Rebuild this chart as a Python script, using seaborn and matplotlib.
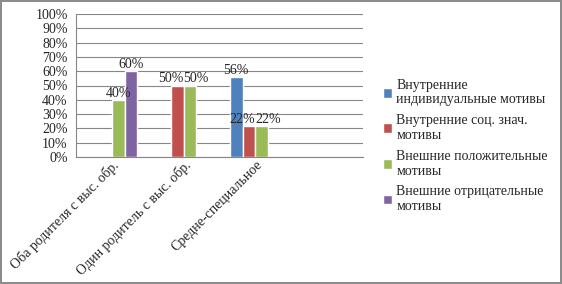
import pandas as pd
import seaborn as sns
import matplotlib.pyplot as plt
from matplotlib.ticker import PercentFormatter

# Chart data
categories = ['Оба родителя с выс. обр.', 'Один родитель с выс. обр.', 'Средне-специальное', ' ']
series = ['Внутренние\nиндивидуальные мотивы',
          'Внутренние соц. знач.\nмотивы',
          'Внешние положительные\nмотивы',
          'Внешние отрицательные\nмотивы']
internal_individual = [0, 0, 56, 0]
internal_social = [0, 50, 22, 0]
external_positive = [40, 50, 22, 0]
external_negative = [60, 0, 0, 0]
colors = ['#4F81BD', '#C0504D', '#9BBB59', '#8064A2']

values = [internal_individual, internal_social, external_positive, external_negative]
rows = []
for name, vals in zip(series, values):
    for cat, v in zip(categories, vals):
        rows.append({'cat': cat, 'series': name, 'value': v})
df = pd.DataFrame(rows)

sns.set_style('white')
plt.rcParams['font.family'] = ['Liberation Serif', 'DejaVu Serif']
plt.rcParams['font.size'] = 10

fig = plt.figure(figsize=(5.62, 2.84), dpi=100)
fig.patch.set_edgecolor('#8c8c8c')
fig.patch.set_linewidth(1.5)
ax = fig.add_axes([76 / 562, 1 - 157 / 284, (363 - 76) / 562, (157 - 14) / 284])

sns.barplot(data=df, x='cat', y='value', hue='series', palette=colors,
            width=0.71, saturation=1, ax=ax, legend=True)

# data labels, only for non-zero bars
labels_by_cat = {i: [] for i in range(len(categories))}
for container in ax.containers:
    labels = [f'{v:.0f}%' if v > 0 else '' for v in container.datavalues]
    anns = ax.bar_label(container, labels=labels, padding=0, fontsize=10)
    for i, (ann, v) in enumerate(zip(anns, container.datavalues)):
        if v > 0:
            labels_by_cat[i].append((ann, v))

# push apart labels at the same height that collide (like Excel does)
fig.canvas.draw()
renderer = fig.canvas.get_renderer()
px_to_pt = 72 / fig.dpi
for i, items in labels_by_cat.items():
    for (a1, v1), (a2, v2) in zip(items, items[1:]):
        if v1 != v2:
            continue
        b1 = a1.get_window_extent(renderer)
        b2 = a2.get_window_extent(renderer)
        overlap = b1.x1 - b2.x0
        if overlap > 0:
            shift = overlap / 2 * px_to_pt
            a1.xyann = (a1.xyann[0] - shift, a1.xyann[1])
            a2.xyann = (a2.xyann[0] + shift, a2.xyann[1])

ax.set_ylim(0, 100)
ax.set_yticks(range(0, 101, 10))
ax.yaxis.set_major_formatter(PercentFormatter(decimals=0))
ax.set_xlim(-0.5, len(categories) - 0.5)
ax.set_xticks([i - 0.5 for i in range(len(categories) + 1)], minor=False)
ax.set_xticklabels([])
ax.set_xticks(range(len(categories)), minor=True)
ax.set_xticklabels(categories, minor=True, rotation=45, ha='right', va='top',
                   rotation_mode='anchor')
ax.tick_params(axis='x', which='minor', length=0, pad=1)
ax.tick_params(axis='x', which='major', length=4, color='#868686', direction='out')
ax.tick_params(axis='y', length=4, color='#868686', direction='out', pad=2)
ax.grid(axis='y', color='#868686', linewidth=0.8)
ax.set_axisbelow(True)
for side in ['top', 'right']:
    ax.spines[side].set_visible(False)
for side in ['left', 'bottom']:
    ax.spines[side].set_color('#868686')
ax.set_xlabel('')
ax.set_ylabel('')

ax.legend(loc='upper left', bbox_to_anchor=(370 / 562, 1 - 66 / 284),
          bbox_transform=fig.transFigure, frameon=False, handlelength=0.7,
          handleheight=0.7, handletextpad=0.3, labelspacing=0.55, fontsize=10)

fig.savefig('out.png', dpi=100)
